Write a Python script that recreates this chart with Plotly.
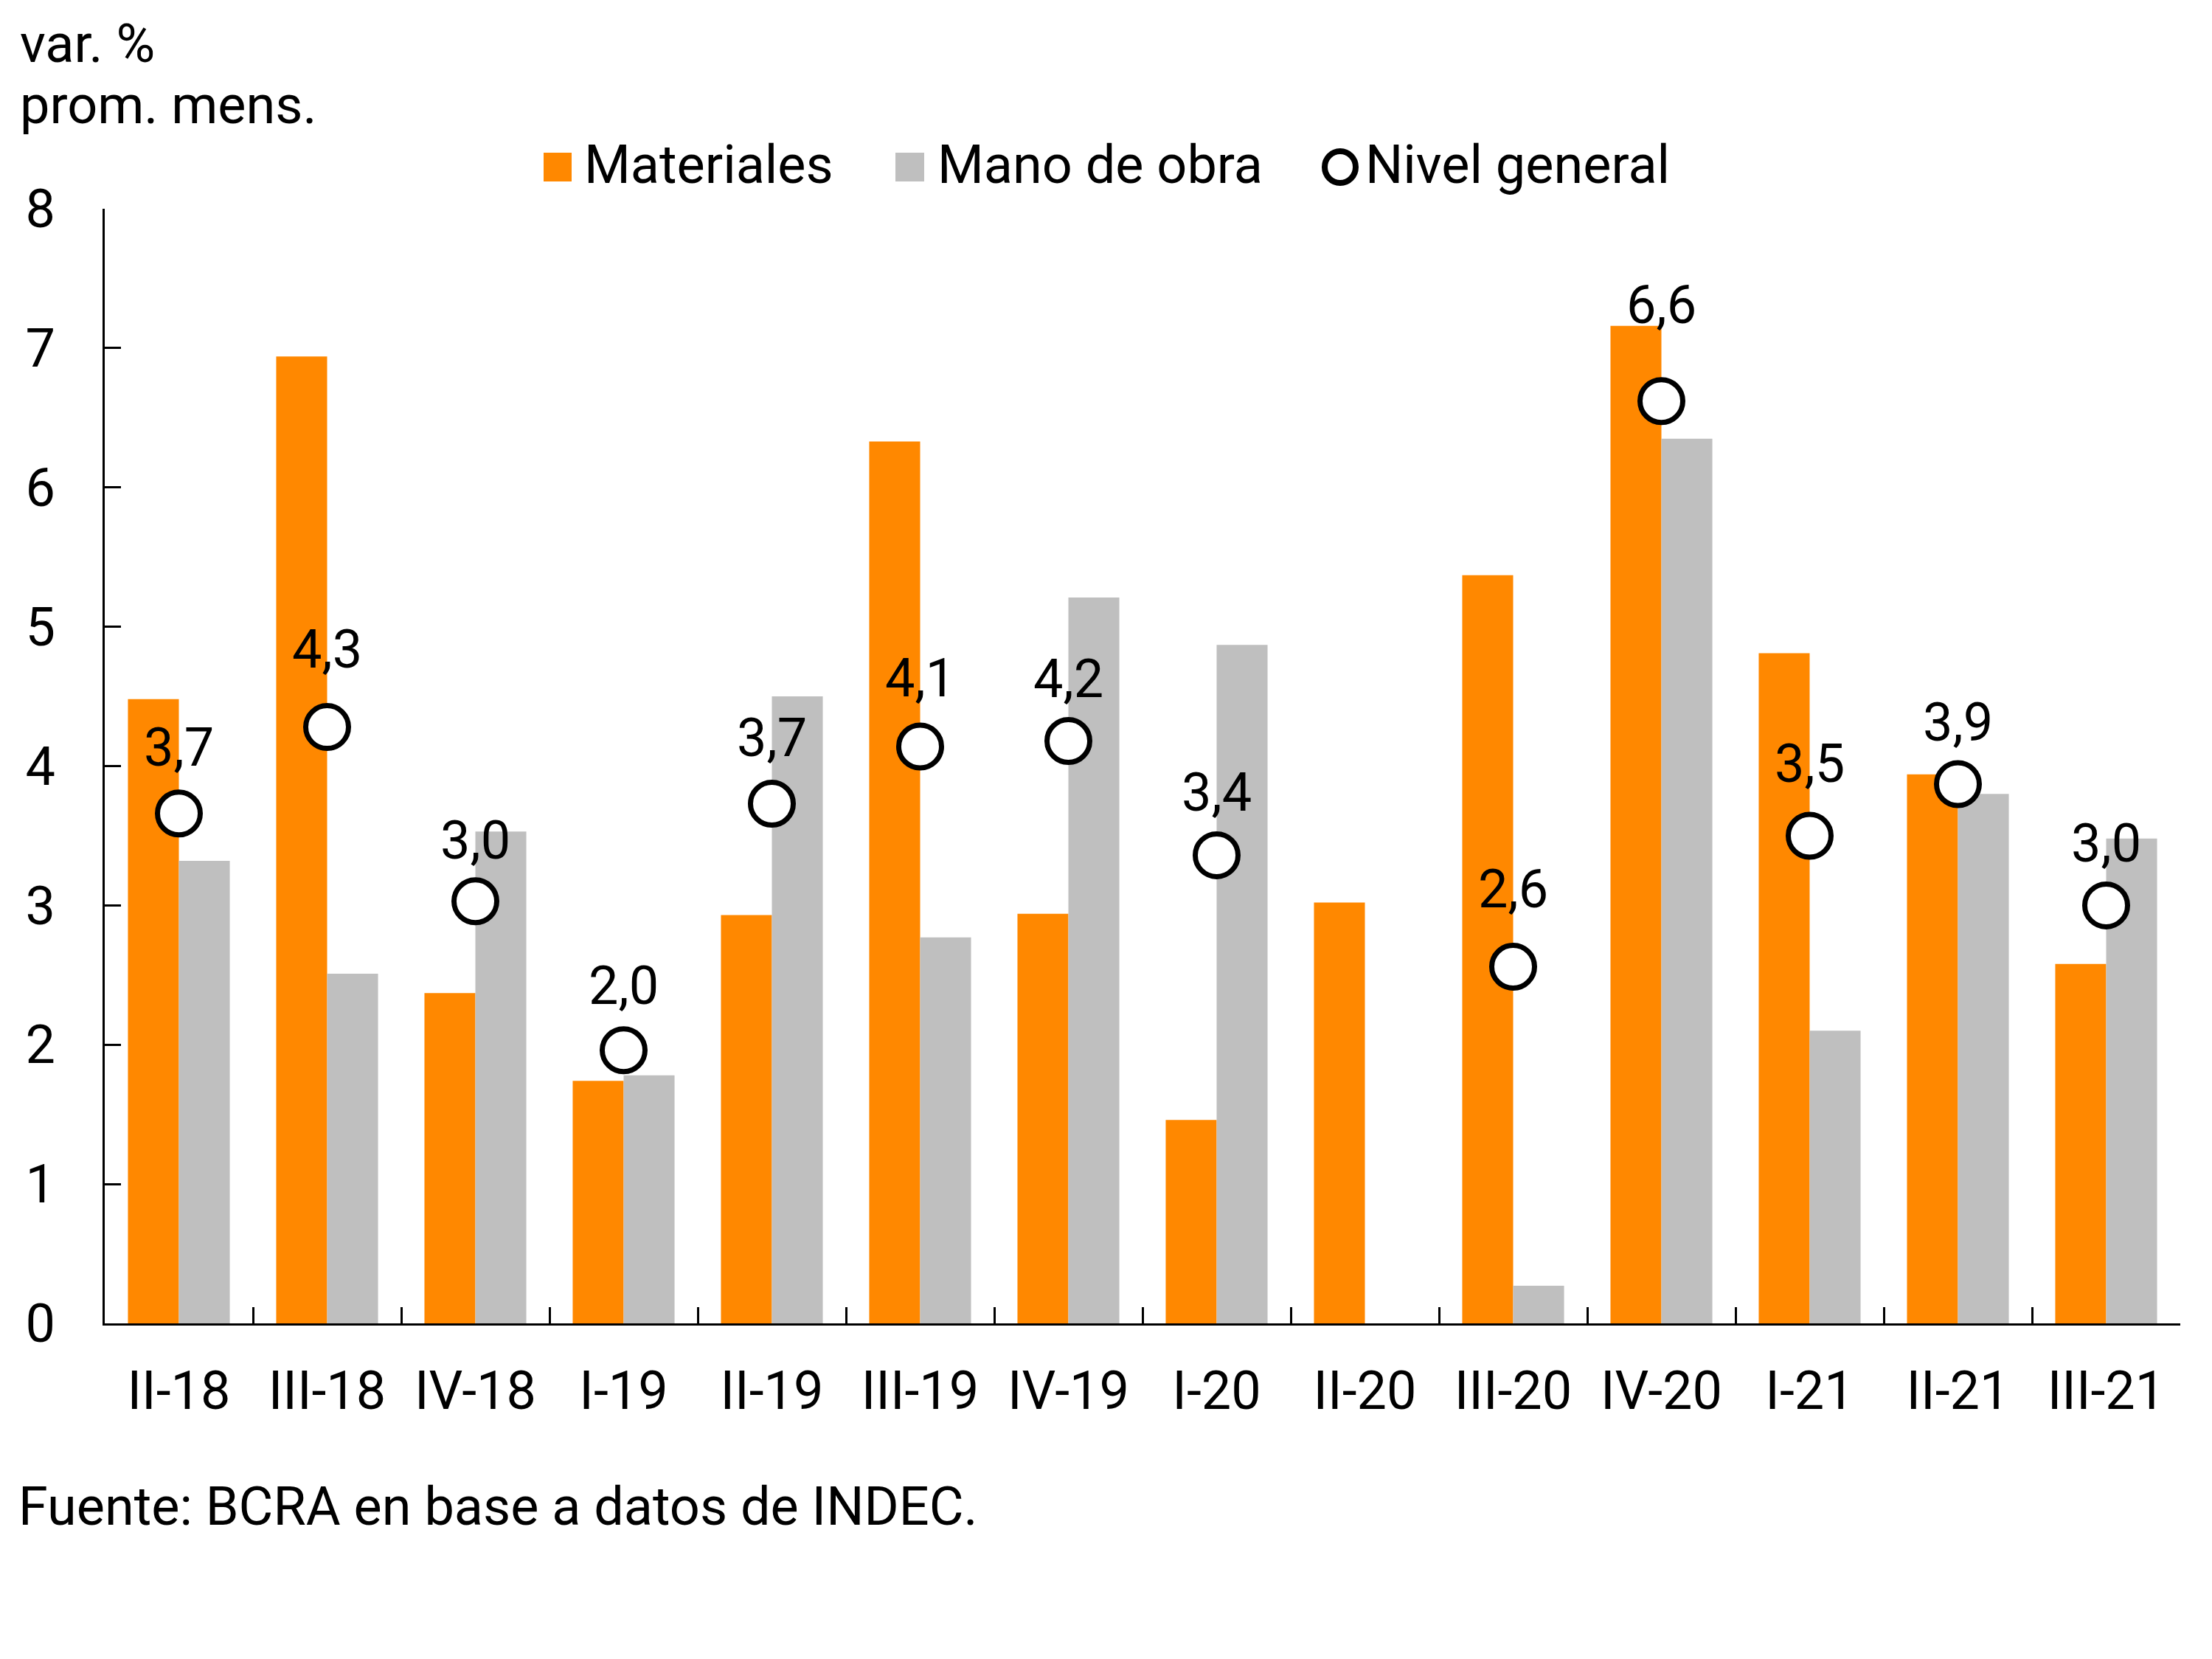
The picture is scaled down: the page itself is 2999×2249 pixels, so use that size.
import plotly.graph_objects as go

categories = ["II-18", "III-18", "IV-18", "I-19", "II-19", "III-19", "IV-19",
              "I-20", "II-20", "III-20", "IV-20", "I-21", "II-21", "III-21"]
materiales = [4.48, 6.94, 2.37, 1.74, 2.93, 6.33, 2.94, 1.46, 3.02, 5.37, 7.16, 4.81, 3.94, 2.58]
mano_de_obra = [3.32, 2.51, 3.53, 1.78, 4.50, 2.77, 5.21, 4.87, -0.02, 0.27, 6.35, 2.10, 3.80, 3.48]
nivel_general = [3.66, 4.28, 3.03, 1.96, 3.73, 4.14, 4.18, 3.36, None, 2.56, 6.62, 3.50, 3.87, 3.00]

series_names = ["Materiales", "Mano de obra", "Nivel general"]
colors = ["#FF8800", "#BFBFBF"]

# vertical offset (px) of each value label above its circle, as placed in the original
label_offsets = [90, 106, 83, 88, 90, 94, 85, 86, 0, 106, 131, 98, 85, 85]

# the page body has an 8px default margin; size the figure so it fits the window
OFF = 8
W, H = 2999 - OFF, 2249 - OFF
ML, MR, MT, MB = 142 - OFF, 43, 283 - OFF, 455
PW, PH = W - ML - MR, H - MT - MB
FONT = "Roboto"
FS = 72
YOFF = -1  # cap-centre to box-middle correction


def px(x):
    return (x - OFF - ML) / PW


def py(y):
    return (H - MB - (y - OFF)) / PH


fig = go.Figure()
fig.add_trace(go.Bar(name=series_names[0], x=categories, y=materiales,
                     marker=dict(color=colors[0], line=dict(width=0))))
fig.add_trace(go.Bar(name=series_names[1], x=categories, y=mano_de_obra,
                     marker=dict(color=colors[1], line=dict(width=0))))
fig.add_trace(go.Scatter(name=series_names[2], x=categories, y=nivel_general,
                         mode="markers",
                         marker=dict(symbol="circle", size=58, color="white",
                                     line=dict(color="black", width=7)),
                         cliponaxis=False))

shapes = [
    dict(type="rect", xref="paper", yref="paper", x0=px(737), x1=px(775), y0=py(246), y1=py(207),
         fillcolor=colors[0], line=dict(width=0)),
    dict(type="rect", xref="paper", yref="paper", x0=px(1214), x1=px(1253), y0=py(246), y1=py(207),
         fillcolor=colors[1], line=dict(width=0)),
    dict(type="circle", xref="paper", yref="paper", x0=px(1796), x1=px(1838), y0=py(248), y1=py(205),
         fillcolor="white", line=dict(color="black", width=8)),
]


def ann(text, x, y):
    return dict(text=text, xref="paper", yref="paper", x=px(x), y=py(y - YOFF),
                xanchor="left", yanchor="middle", align="left", showarrow=False,
                borderpad=0, font=dict(family=FONT, size=FS, color="black"))


annotations = [
    ann("var. %", 26, 59),
    ann("prom. mens.", 26, 142),
    ann("Fuente: BCRA en base a datos de INDEC.", 24, 2041),
    ann(series_names[0], 791, 222),
    ann(series_names[1], 1270, 222),
    ann(series_names[2], 1850, 222),
]

# value labels of "Nivel general"
for cat, val, off in zip(categories, nivel_general, label_offsets):
    if val is None:
        continue
    annotations.append(dict(
        text=f"{val:.1f}".replace(".", ","), xref="x", yref="y", x=cat, y=val,
        xanchor="center", yanchor="middle", yshift=off + YOFF, showarrow=False,
        borderpad=0, font=dict(family=FONT, size=FS, color="black")))

fig.update_layout(
    width=W, height=H,
    margin=dict(l=ML, r=MR, t=MT, b=MB),
    paper_bgcolor="white", plot_bgcolor="white",
    font=dict(family=FONT, size=FS, color="black"),
    separators=",.",
    barmode="group", bargap=0.313, bargroupgap=0,
    showlegend=False,
    xaxis=dict(range=[-0.5, 13.5], showline=True, linecolor="black", linewidth=2.5,
               ticks="inside", tickson="boundaries", ticklen=22, tickwidth=2.5, tickcolor="black",
               ticklabelstandoff=27, showgrid=False,
               tickfont=dict(family=FONT, size=FS, color="black")),
    yaxis=dict(range=[0, 8], dtick=1, showline=True, linecolor="black", linewidth=2.5,
               ticks="inside", ticklen=22, tickwidth=2.5, tickcolor="black",
               ticklabelstandoff=50, showgrid=False, zeroline=False,
               tickfont=dict(family=FONT, size=FS, color="black")),
    shapes=shapes,
    annotations=annotations,
)

fig.write_html("out.html")
